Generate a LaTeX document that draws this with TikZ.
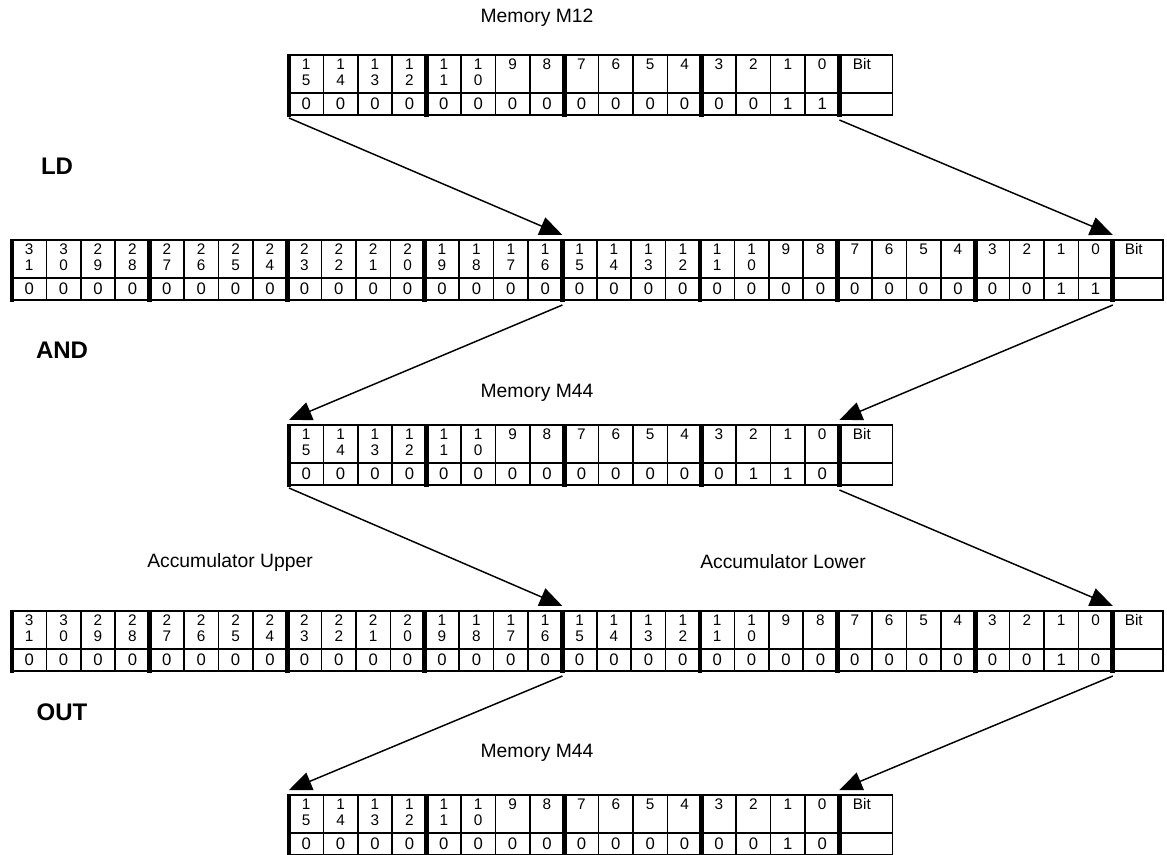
\documentclass[tikz,border=0pt]{standalone}
\usepackage{fontspec}
\setmainfont{Liberation Sans}
\usetikzlibrary{arrows.meta}
\tikzset{
  thinline/.style={line width=1.1pt},
  nibbleline/.style={line width=3.6pt},
  headcell/.style={anchor=north, inner sep=1pt, align=center, font=\fontsize{11.5}{12.5}\selectfont},
  valcell/.style={inner sep=0pt, font=\fontsize{12.5}{13}\selectfont},
  title/.style={font=\fontsize{14.5}{17}\selectfont},
  opname/.style={font=\fontsize{18}{20}\selectfont\bfseries},
  arrow/.style={-{Triangle[length=17pt,width=14pt]}, line width=1.1pt}
}
% #1 name, #2 left, #3 top, #4 highest bit, #5 width of Bit cell, #6 value
\newcommand{\bittable}[6]{%
  \pgfmathsetmacro\tabR{#2+(#4+1)*34.4}
  \draw[thinline] (#2,#3) rectangle (\tabR+#5,#3+60);
  \draw[thinline] (#2,#3+38) -- (\tabR+#5,#3+38);
  \foreach \bnd in {0,...,\numexpr#4+1\relax} {
    \pgfmathtruncatemacro\nib{mod(\bnd,4)}
    \ifnum\nib=0
      \draw[nibbleline] (#2+\bnd*34.4,#3-1) -- (#2+\bnd*34.4,#3+62);
    \else
      \draw[thinline] (#2+\bnd*34.4,#3) -- (#2+\bnd*34.4,#3+60);
    \fi
  }
  \foreach \bitno in {#4,...,0} {
    \pgfmathsetmacro\cx{#2+(#4-\bitno+0.5)*34.4}
    \pgfmathtruncatemacro\td{floor(\bitno/10)}
    \pgfmathtruncatemacro\ud{mod(\bitno,10)}
    \ifnum\bitno>9 \def\lbl{\td\\\ud}\else\def\lbl{\bitno}\fi
    \ifnum\bitno<4 \pgfmathtruncatemacro\bv{mod(floor(#6/2^\bitno),2)}\else\def\bv{0}\fi
    \node[headcell] (#1-h\bitno) at (\cx,#3+2) {\lbl};
    \node[valcell] (#1-v\bitno) at (\cx,#3+49) {\bv};
  }
  \node[headcell] (#1-bit) at (\tabR+#5/2-4,#3+2) {Bit};
  \coordinate (#1-nw) at (#2,#3-5);
  \coordinate (#1-nm) at (#2+16*34.4,#3-5);
  \coordinate (#1-ne) at (\tabR,#3-5);
  \coordinate (#1-sw) at (#2,#3+63);
  \coordinate (#1-sm) at (#2+16*34.4,#3+65);
  \coordinate (#1-se) at (\tabR,#3+65);
}

\begin{document}
\begin{tikzpicture}[x=0.75pt,y=-0.75pt]
\useasboundingbox (0,0) rectangle (1167,854);

\node[title] (m12) at (537,18) {Memory M12};
\bittable{mA}{289}{55}{15}{53}{3}

\node[opname] (ld) at (57,166) {LD};
\bittable{accA}{12}{240}{31}{50}{3}

\node[opname] (and) at (62,350) {AND};
\node[title] (m44a) at (537,393) {Memory M44};
\bittable{mB}{289}{425}{15}{53}{6}

\node[title] (upper) at (230,562) {Accumulator Upper};
\node[title] (lower) at (783,562) {Accumulator Lower};
\bittable{accB}{12}{611}{31}{50}{2}

\node[opname] (out) at (62,712) {OUT};
\node[title] (m44b) at (537,753) {Memory M44};
\bittable{mC}{289}{795}{15}{53}{2}

\draw[arrow] (mA-sw) -- (accA-nm);
\draw[arrow] (mA-se) -- (accA-ne);
\draw[arrow] (accA-sm) -- (mB-nw);
\draw[arrow] (accA-se) -- (mB-ne);
\draw[arrow] (mB-sw) -- (accB-nm);
\draw[arrow] (mB-se) -- (accB-ne);
\draw[arrow] (accB-sm) -- (mC-nw);
\draw[arrow] (accB-se) -- (mC-ne);
\end{tikzpicture}
\end{document}
